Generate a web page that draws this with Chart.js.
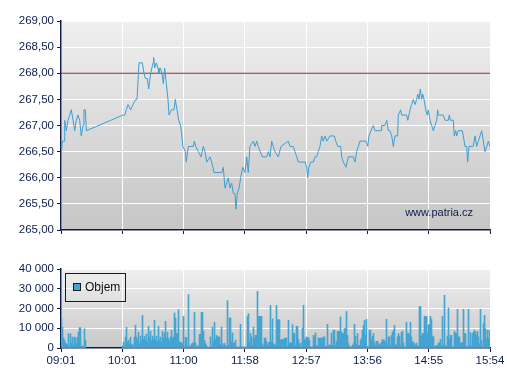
<!DOCTYPE html>
<html><head><meta charset="utf-8">
<script src="https://cdn.jsdelivr.net/npm/chart.js@4/dist/chart.umd.min.js"></script>
<style>
html,body{margin:0;padding:0;background:#fff;}
#wrap{position:relative;width:507px;height:380px;overflow:hidden;}
canvas{position:absolute;left:0;}
#c1{top:0;} #c2{top:245px;}
</style></head><body>
<div id="wrap"><canvas id="c1" width="507" height="245"></canvas><canvas id="c2" width="507" height="135"></canvas></div>
<script>
// ---------- data ----------
const timeLabels = ['09:01','10:01','11:00','11:58','12:57','13:56','14:55','15:54'];
const sessionMinutes = 413; // 09:01 -> 15:54

// minutes after 09:01
const priceTimes = [
 0,1.3,2.9,3.6,5.1,6.7,8.4,9.9,11.6,13.2,
 14.7,16.4,18.0,19.5,21.2,22.1,23.4,24.4,59.7,61.3,
 62.9,64.5,67.1,69.3,71.9,73.2,75.1,78.3,79.9,81.2,
 83.1,84.4,86.4,88.6,89.2,90.2,91.7,93.4,94.3,95.6,
 97.2,98.5,99.8,101.4,103.0,104.0,106.2,108.8,110.0,111.7,
 113.3,115.2,117.4,119.7,120.6,122.6,127.4,128.3,129.7,132.2,
 134.8,137.0,138.6,140.3,143.4,145.1,147.3,154.7,156.2,157.9,
 161.1,162.7,164.3,165.9,167.5,168.5,169.7,171.4,173.0,174.9,
 177.1,178.8,180.3,181.9,185.1,186.8,188.4,189.9,193.8,198.0,
 199.6,201.2,202.8,204.4,206.0,209.2,211.8,218.8,220.5,223.6,
 225.3,226.9,228.5,234.9,236.5,237.5,238.7,240.4,242.9,244.5,
 246.2,247.7,249.3,251.0,252.5,254.2,255.8,259.0,263.1,264.5,
 266.4,269.3,270.2,271.8,274.4,276.6,281.4,283.0,284.7,286.2,
 287.8,293.6,295.3,296.5,298.4,300.7,302.3,308.1,308.7,311.9,
 313.6,315.1,316.7,318.4,319.9,321.5,324.1,324.7,327.0,328.0,
 332.8,333.8,335.0,336.0,337.6,339.2,340.8,342.4,343.4,344.7,
 345.9,347.3,348.2,349.5,351.1,352.6,353.6,355.2,356.9,358.4,
 360.0,361.7,362.6,363.2,368.0,369.7,372.9,373.8,374.8,377.7,
 378.6,380.0,380.9,382.5,386.3,387.3,388.9,390.5,391.5,392.8,
 396.9,398.6,400.2,401.7,403.4,405.0,406.6,408.2,409.9,411.4,413.0
];
const prices = [
 266.4,266.7,266.7,267.1,266.9,267.1,267.2,267.3,267.1,266.9,
 267.1,267.2,267.1,266.8,267.0,267.3,267.3,266.9,267.2,267.2,
 267.3,267.4,267.3,267.4,267.5,267.5,268.2,268.2,268.0,267.9,
 267.9,267.7,268.0,268.2,268.3,268.1,268.2,268.1,268.0,268.1,
 268.0,267.8,268.1,267.8,267.5,267.2,267.3,267.3,267.5,267.3,
 267.1,267.0,266.6,266.5,266.3,266.6,266.6,266.7,266.6,266.5,
 266.4,266.6,266.5,266.3,266.4,266.3,266.1,266.1,266.2,265.8,
 266.0,265.8,265.9,265.7,265.7,265.4,265.7,265.8,266.0,266.2,
 266.1,266.4,266.1,266.6,266.7,266.6,266.7,266.6,266.4,266.4,
 266.5,266.4,266.7,266.6,266.5,266.4,266.6,266.7,266.6,266.6,
 266.5,266.4,266.3,266.3,266.2,266.0,266.2,266.3,266.3,266.4,
 266.4,266.5,266.6,266.8,266.7,266.8,266.7,266.8,266.8,266.7,
 266.6,266.6,266.4,266.3,266.2,266.4,266.4,266.3,266.5,266.6,
 266.7,266.7,266.6,266.8,266.9,267.0,266.9,266.9,267.0,267.0,
 267.1,266.9,266.9,266.8,266.6,266.8,266.8,267.2,267.3,267.2,
 267.2,267.1,267.2,267.3,267.4,267.5,267.4,267.5,267.6,267.5,
 267.7,267.5,267.6,267.5,267.3,267.2,267.3,267.1,267.0,266.9,
 267.0,267.1,267.3,267.2,267.2,267.1,267.1,267.2,267.1,267.1,
 266.8,266.9,266.8,266.9,266.9,266.8,266.6,266.6,266.3,266.6,
 266.6,266.8,266.6,266.7,266.8,266.9,266.7,266.5,266.6,266.7,266.6
];
const referencePrice = 268.00;
const priceAxis = {min: 265, max: 269, step: 0.5};

// volume: one bar per time slot (429 slots across the session)
const volumeSlots = 429;
const volumeRun1Start = 0;
const volumeRun1 = [15000,10500,5000,4000,2500,2000,1500,7300,1000,7200,2500,5500,1200,5600,5000,2000,5500,8000,10300,10300,1000,1000,600,9800,3800];
const volumeRun2Start = 61;
const volumeRun2 = [
 1000,3000,1000,5500,10500,3000,4000,2000,5500,1500,
 2000,1000,5500,11500,5500,4000,8000,2000,6000,3500,
 16500,4500,6000,4000,7000,3000,11000,5500,8500,3500,
 6000,4500,14000,4000,6000,3000,11000,4000,5500,3000,
 8500,5000,7500,13500,5000,8000,4700,3400,5600,9000,
 5000,5600,17700,15200,7300,7300,19400,3000,3000,2500,
 2200,16000,300,5400,5400,800,27000,800,800,2000,
 2500,2500,18000,2500,500,1300,500,6900,6900,18000,
 18000,8600,3900,2200,1300,300,300,200,5600,800,
 10600,3400,13000,4400,6400,5600,5600,5600,1700,10600,
 2200,1300,2400,1300,800,24000,1300,15200,15200,3000,
 7600,2500,2500,3900,500,500,500,500,12000,500,
 500,500,500,500,500,16000,17400,3000,7300,5600,
 1300,10600,5000,6400,6400,28700,16000,16000,16000,16000,
 2000,800,5000,5000,3400,1300,2500,3000,21600,3000,
 14800,2200,1700,1300,21600,14300,14300,14300,3900,4400,
 4400,3900,5000,5000,5000,800,14000,2200,2700,2700,
 11800,7400,7400,1300,11000,11000,4400,1700,2500,500,
 10000,21600,4700,3900,5600,5200,5200,3900,500,500,
 500,6400,5600,7600,1300,800,5000,5000,5000,5000,
 5000,5600,5600,800,800,12000,1300,1700,1300,7600,
 1300,9000,9000,1300,3400,8400,8400,8400,15700,8000,
 7300,7300,9800,9800,18500,6400,2200,800,500,500,
 1300,2200,12000,5900,1700,7300,1300,1300,3900,5000,
 9000,11500,14000,6400,14500,800,500,9000,9000,3900,
 5900,7300,3000,1300,3400,3400,1300,2200,1700,3000,
 4400,3900,3900,2700,14500,1300,5600,5600,1300,6400,
 8000,9000,11500,1300,1700,5600,7300,6000,1300,8000,
 8600,2700,500,500,13000,7400,7400,6700,13000,5600,
 3000,3000,2200,1300,2500,1300,800,21000,21000,6000,
 7300,7300,16000,16000,16000,7300,11800,11800,16000,14500,
 6000,5600,800,800,1300,1300,2500,2500,4400,800,
 16000,1300,26700,1300,800,6000,20200,4400,6400,6400,
 800,500,8400,7600,7300,19600,5600,5600,2200,2700,
 2500,19600,7300,7300,800,800,19600,1300,7800,800,
 7300,8000,9000,8000,6400,8400,5600,2200,19600,3900,
 800,12300,16500,9800,4700,9000,4700,9000
];
const volumeAxis = {min: 0, max: 40000, step: 10000};
const volumeLabel = 'Objem';
const watermark = 'www.patria.cz';

// ---------- style ----------
const NAVY = '#0e1d4c';
const FONT = {family: "'Liberation Sans', Arial, sans-serif", size: 11.5};
const LINE_BLUE = '#3d9fd0';
const BAR_BLUE = '#44a4d2';

const priceData = priceTimes.map((t, i) => ({x: t, y: prices[i]}));
const refData = [{x: 0, y: referencePrice}, {x: sessionMinutes, y: referencePrice}];
const volumeData = [];
volumeRun1.forEach((v, i) => volumeData.push({x: volumeRun1Start + i, y: v}));
volumeRun2.forEach((v, i) => volumeData.push({x: volumeRun2Start + i, y: v}));

const bgPlugin = {
  id: 'plotBg',
  beforeDraw(chart, args, opts) {
    const {ctx, chartArea: a} = chart;
    const g = ctx.createLinearGradient(0, a.top, 0, a.bottom);
    g.addColorStop(0, opts.top); g.addColorStop(1, opts.bottom);
    ctx.save(); ctx.fillStyle = g;
    ctx.fillRect(a.left, a.top, a.right - a.left, a.bottom - a.top);
    ctx.restore();
  }
};
const watermarkPlugin = {
  id: 'watermark',
  afterDraw(chart, args, opts) {
    if (!opts.text) return;
    const {ctx, chartArea: a} = chart;
    ctx.save();
    ctx.font = "11px 'Liberation Sans', Arial, sans-serif";
    ctx.fillStyle = NAVY; ctx.textAlign = 'right'; ctx.textBaseline = 'middle';
    ctx.fillText(opts.text, a.right - 17, a.bottom - 17);
    ctx.restore();
  }
};
// boxed legend inside the plot area, built from the dataset's own label and colour
const boxLegendPlugin = {
  id: 'boxLegend',
  afterDraw(chart) {
    const {ctx, chartArea: a} = chart;
    const ds = chart.data.datasets[0];
    const x0 = a.left + 4, y0 = a.top + 4;
    ctx.save();
    ctx.strokeStyle = '#1a1a1a'; ctx.lineWidth = 1;
    ctx.strokeRect(x0 + 0.5, y0 + 0.5, 60, 28);
    ctx.fillStyle = ds.backgroundColor;
    ctx.fillRect(x0 + 8, y0 + 10, 8, 8);
    ctx.strokeRect(x0 + 8.5, y0 + 10.5, 7, 7);
    ctx.font = "12px 'Liberation Sans', Arial, sans-serif";
    ctx.fillStyle = '#111';
    ctx.textAlign = 'left'; ctx.textBaseline = 'middle';
    ctx.fillText(ds.label, x0 + 20, y0 + 14.5);
    ctx.restore();
  }
};

function timeTicks(max) {
  return s => { s.ticks = timeLabels.map((l, i) => ({value: (s.options.min) + i * (max) / (timeLabels.length - 1)})); };
}

// ---------- price chart ----------
new Chart(document.getElementById('c1'), {
  type: 'line',
  data: {datasets: [
    {label: 'Cena', data: priceData, borderColor: LINE_BLUE, borderWidth: 1, pointRadius: 0, tension: 0, fill: false},
    {label: 'Předchozí závěr', data: refData, borderColor: '#a8231c', borderWidth: 1, pointRadius: 0, fill: false}
  ]},
  options: {
    responsive: false, animation: false, events: [],
    layout: {padding: {top: 21, right: 17, bottom: 5, left: 0}},
    plugins: {legend: {display: false}, tooltip: {enabled: false},
      plotBg: {top: '#efefef', bottom: '#c6c6c6'}, watermark: {text: watermark}},
    scales: {
      x: {type: 'linear', min: 0, max: sessionMinutes, offset: false,
        afterBuildTicks: timeTicks(sessionMinutes),
        ticks: {autoSkip: false, maxRotation: 0, callback: () => '', font: FONT},
        grid: {color: '#ffffff', lineWidth: 1, tickLength: 4, tickColor: NAVY},
        border: {color: NAVY, width: 1.5},
        afterFit: s => { s.height = 10; }},
      y: {min: priceAxis.min, max: priceAxis.max,
        ticks: {stepSize: priceAxis.step, color: NAVY, font: FONT, padding: 3,
          callback: v => v.toFixed(2).replace('.', ',')},
        grid: {color: '#ffffff', lineWidth: 1, tickLength: 4, tickColor: NAVY},
        border: {color: NAVY, width: 1.5},
        afterFit: s => { s.width = 61; }}
    }
  },
  plugins: [bgPlugin, watermarkPlugin]
});

// ---------- volume chart ----------
new Chart(document.getElementById('c2'), {
  type: 'bar',
  data: {datasets: [
    {label: volumeLabel, data: volumeData, backgroundColor: BAR_BLUE, borderWidth: 0,
     barPercentage: 1, categoryPercentage: 1}
  ]},
  options: {
    responsive: false, animation: false, events: [],
    layout: {padding: {top: 24, right: 17, bottom: 12, left: 0}},
    plugins: {
      tooltip: {enabled: false}, legend: {display: false},
      plotBg: {top: '#efefef', bottom: '#c9c9c9'}
    },
    scales: {
      x: {type: 'linear', min: -0.5, max: volumeSlots - 0.5, offset: false,
        afterBuildTicks: timeTicks(volumeSlots),
        ticks: {autoSkip: false, maxRotation: 0, color: NAVY, font: FONT, padding: 2,
          callback: (v, i) => timeLabels[i]},
        grid: {color: '#ffffff', lineWidth: 1, tickLength: 4, tickColor: NAVY, offset: false},
        border: {color: NAVY, width: 1.5},
        afterFit: s => { s.height = 20; }},
      y: {min: volumeAxis.min, max: volumeAxis.max,
        ticks: {stepSize: volumeAxis.step, color: NAVY, font: FONT, padding: 3,
          callback: v => String(v).replace(/\B(?=(\d{3})+(?!\d))/g, ' ')},
        grid: {color: '#ffffff', lineWidth: 1, tickLength: 4, tickColor: NAVY},
        border: {color: NAVY, width: 1.5},
        afterFit: s => { s.width = 61; }}
    }
  },
  plugins: [bgPlugin, boxLegendPlugin]
});
</script>
</body></html>
